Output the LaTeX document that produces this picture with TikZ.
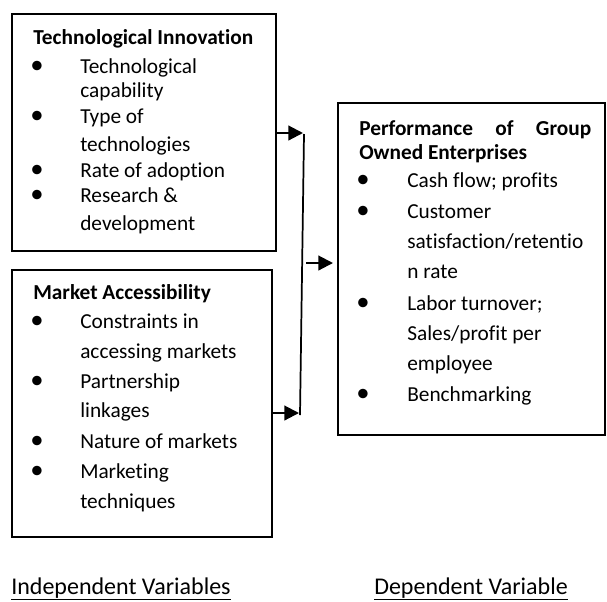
\documentclass[tikz,border=0pt]{standalone}
\usepackage{fontspec}
\setmainfont{Carlito}[Ligatures=NoCommon]
\usetikzlibrary{arrows.meta,fit}
\begin{document}
\begin{tikzpicture}[x=0.75pt,y=-0.75pt,
  box/.style={draw, line width=1.6pt, inner sep=0pt, outer sep=0pt},
  txt/.style={anchor=base west, inner sep=0pt, font=\fontsize{16}{18}\selectfont},
  hd/.style={anchor=base west, inner sep=0pt, font=\fontsize{16}{18}\selectfont\bfseries},
  bul/.style={anchor=base, inner sep=0pt, font=\fontsize{20}{20}\selectfont},
  lab/.style={anchor=base west, inner sep=0pt, font=\fontsize{18}{20}\selectfont},
  link/.style={line width=1.6pt, -{Triangle[length=11pt,width=11pt]}},
]
\useasboundingbox (0,0) rectangle (607,601);

% the three framed boxes
\node[box, fit={(12,14) (276,251)}] (tech) {};
\node[box, fit={(12,270) (272,537)}] (mkt) {};
\node[box, fit={(338,103) (605,435)}] (perf) {};

% Technological Innovation
\node[hd] (tech-h) at (33,44) {Technological Innovation};
\foreach \t/\y [count=\i] in {Technological/73, capability/97, Type of/123,
    technologies/151, Rate of adoption/177, Research \&/202, development/230}
  \node[txt] (tech-l\i) at (80,\y) {\t};
\foreach \y [count=\i] in {73,123,177,202}
  \node[bul] (tech-b\i) at (37,\y) {•};

% Market Accessibility
\node[hd] (mkt-h) at (33,299) {Market Accessibility};
\foreach \t/\y [count=\i] in {Constraints in/328, accessing markets/358,
    Partnership/388, linkages/417, Nature of markets/448, Marketing/478,
    techniques/508}
  \node[txt] (mkt-l\i) at (80,\y) {\t};
\foreach \y [count=\i] in {328,388,448,478}
  \node[bul] (mkt-b\i) at (37,\y) {•};

% Performance of Group Owned Enterprises
\node[hd] (perf-h1) at (359,135) {\makebox[174pt][s]{Performance of Group}};
\node[hd] (perf-h2) at (359,159) {Owned Enterprises};
\foreach \t/\y [count=\i] in {Cash flow; profits/187, Customer/218,
    satisfaction{/}retentio/248, n rate/278, Labor turnover;/310,
    {Sales/profit per}/340, employee/370, Benchmarking/401}
  \node[txt] (perf-l\i) at (407,\y) {\t};
\foreach \y [count=\i] in {187,218,310,401}
  \node[bul] (perf-b\i) at (363,\y) {•};

% connectors
\coordinate (j1) at (303,133);
\coordinate (j2) at (299,413);
\coordinate (jt) at (304,134);
\coordinate (jb) at (300,415);
\coordinate (m) at (306,263);
\draw[link] (tech.east |- j1) -- (j1);
\draw[link] (mkt.east |- j2) -- (j2);
\draw[line width=1.3pt] (jt) -- (jb);
\draw[link, shorten >=3.75pt] (m) -- (perf.west |- m);

% captions
\node[lab] (indep) at (11,594) {\underline{Independent Variables}};
\node[lab] (dep) at (374,594) {\underline{Dependent Variable}};
\end{tikzpicture}
\end{document}
